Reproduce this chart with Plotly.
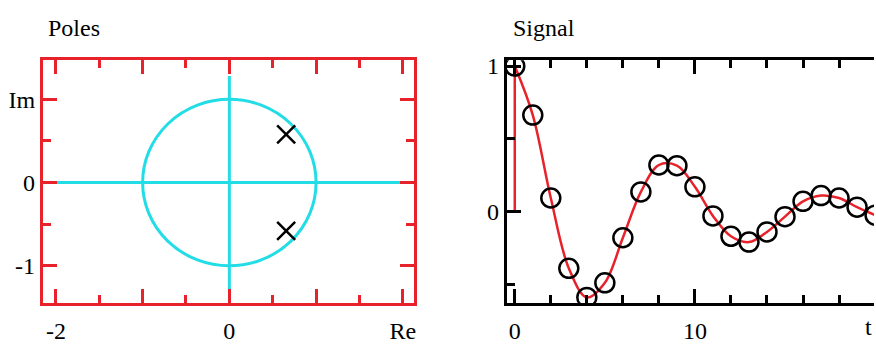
import plotly.graph_objects as go

# ---- data ----
pole_re = [0.655, 0.655]
pole_im = [0.58, -0.58]

t_vals = list(range(0, 21))
signal = [1.0, 0.663, 0.093, -0.39, -0.59, -0.49, -0.18, 0.135, 0.32, 0.315,
          0.17, -0.03, -0.17, -0.21, -0.14, -0.035, 0.07, 0.11, 0.093, 0.03, -0.025]

re_axis_x = [-2, 2]
re_axis_y = [0, 0]
im_axis_x = [0, 0]
im_axis_y = [-1.28, 1.28]

impulse_t = [0, 0]
impulse_y = [0, 1]

poles_xticks = [-2, -1, 0, 1, 2]
poles_xtext = ["-2", "", "0", "", "Re"]
poles_yticks = [-1, 0, 1]
poles_ytext = ["-1", "0", "Im"]
sig_xticks = [0, 10, 20]
sig_xtext = ["0", "10", "t"]
sig_yticks = [0, 1]
sig_ytext = ["0", "1"]
sig_yminor = [-0.5, 0.5]

RED = "#e8222a"
CYAN = "#22dce6"
FONT = "Liberation Serif, Times New Roman, serif"
FS = 24

fig = go.Figure()

fig.add_trace(go.Scatter(x=re_axis_x, y=re_axis_y, mode="lines",
                         line=dict(color=CYAN, width=3), xaxis="x", yaxis="y"))
fig.add_trace(go.Scatter(x=im_axis_x, y=im_axis_y, mode="lines",
                         line=dict(color=CYAN, width=3), xaxis="x", yaxis="y"))
fig.add_trace(go.Scatter(x=pole_re, y=pole_im, mode="markers",
                         marker=dict(symbol="x-thin-open", size=18, color="black",
                                     line=dict(color="black", width=2.5)),
                         xaxis="x", yaxis="y"))

fig.add_trace(go.Scatter(x=impulse_t, y=impulse_y, mode="lines",
                         line=dict(color=RED, width=2.5), xaxis="x2", yaxis="y2"))
fig.add_trace(go.Scatter(x=t_vals, y=signal, mode="lines", line_shape="spline",
                         line=dict(color=RED, width=2.5), xaxis="x2", yaxis="y2"))
fig.add_trace(go.Scatter(x=t_vals, y=signal, mode="markers",
                         marker=dict(symbol="circle-open", size=19, color="black",
                                     line=dict(color="black", width=2.5)),
                         xaxis="x2", yaxis="y2"))

fig.add_shape(type="circle", xref="x", yref="y", x0=-1, x1=1, y0=-1, y1=1,
              line=dict(color=CYAN, width=3), layer="below")

ydom = [(344 - 306) / 344, (344 - 55) / 344]

def axis_common(color, tickvals, ticktext, minor_dtick, dom):
    return dict(domain=dom, showgrid=False, zeroline=False, showline=True,
                linecolor=color, linewidth=3, mirror="ticks", ticks="inside",
                ticklen=14, tickwidth=3, tickcolor=color,
                tickmode="array", tickvals=tickvals, ticktext=ticktext,
                minor=dict(dtick=minor_dtick, ticks="inside", ticklen=8,
                           tickwidth=3, tickcolor=color, showgrid=False),
                tickfont=dict(family=FONT, size=FS, color="black"))

xa = axis_common(RED, poles_xticks, poles_xtext, 0.5, [43/876, 415/876])
xa.update(range=[-2.15, 2.13], anchor="y", ticklabelstandoff=4)
ya = axis_common(RED, poles_yticks, poles_ytext, 0.5, ydom)
ya.update(range=[-1.45, 1.47], anchor="x", ticklabelstandoff=0)

xa2 = axis_common("black", sig_xticks, sig_xtext, 2, [508/876, 1.0])
xa2.update(range=[-0.44, 19.94], anchor="y2", ticklabelstandoff=4)
ya2 = axis_common("black", sig_yticks, sig_ytext, 0.5, ydom)
ya2.update(range=[-0.63, 1.04], anchor="x2", ticklabelstandoff=0, minor=dict(
    tickmode="array", tickvals=sig_yminor, ticks="inside", ticklen=8, tickwidth=3,
    tickcolor="black", showgrid=False))
ya2["mirror"] = False

fig.update_layout(
    width=876, height=344,
    margin=dict(l=0, r=0, t=0, b=0),
    paper_bgcolor="white", plot_bgcolor="white",
    showlegend=False,
    xaxis=xa, yaxis=ya, xaxis2=xa2, yaxis2=ya2,
    font=dict(family=FONT, size=FS, color="black"),
    annotations=[
        dict(text="Poles", x=46/876, y=1 - 22/344, xref="paper", yref="paper",
             xanchor="left", yanchor="middle", showarrow=False,
             font=dict(family=FONT, size=FS, color="black")),
        dict(text="Signal", x=512/876, y=1 - 22/344, xref="paper", yref="paper",
             xanchor="left", yanchor="middle", showarrow=False,
             font=dict(family=FONT, size=FS, color="black")),
        dict(text=sig_xtext[2], x=1.0, y=1 - 331/344, xref="paper", yref="paper",
             xanchor="right", yanchor="middle", showarrow=False,
             font=dict(family=FONT, size=FS, color="black")),
    ],
)

fig.write_html("out.html", config={"displayModeBar": False},
               post_script="document.body.style.margin='0';document.body.style.overflow='hidden';")
